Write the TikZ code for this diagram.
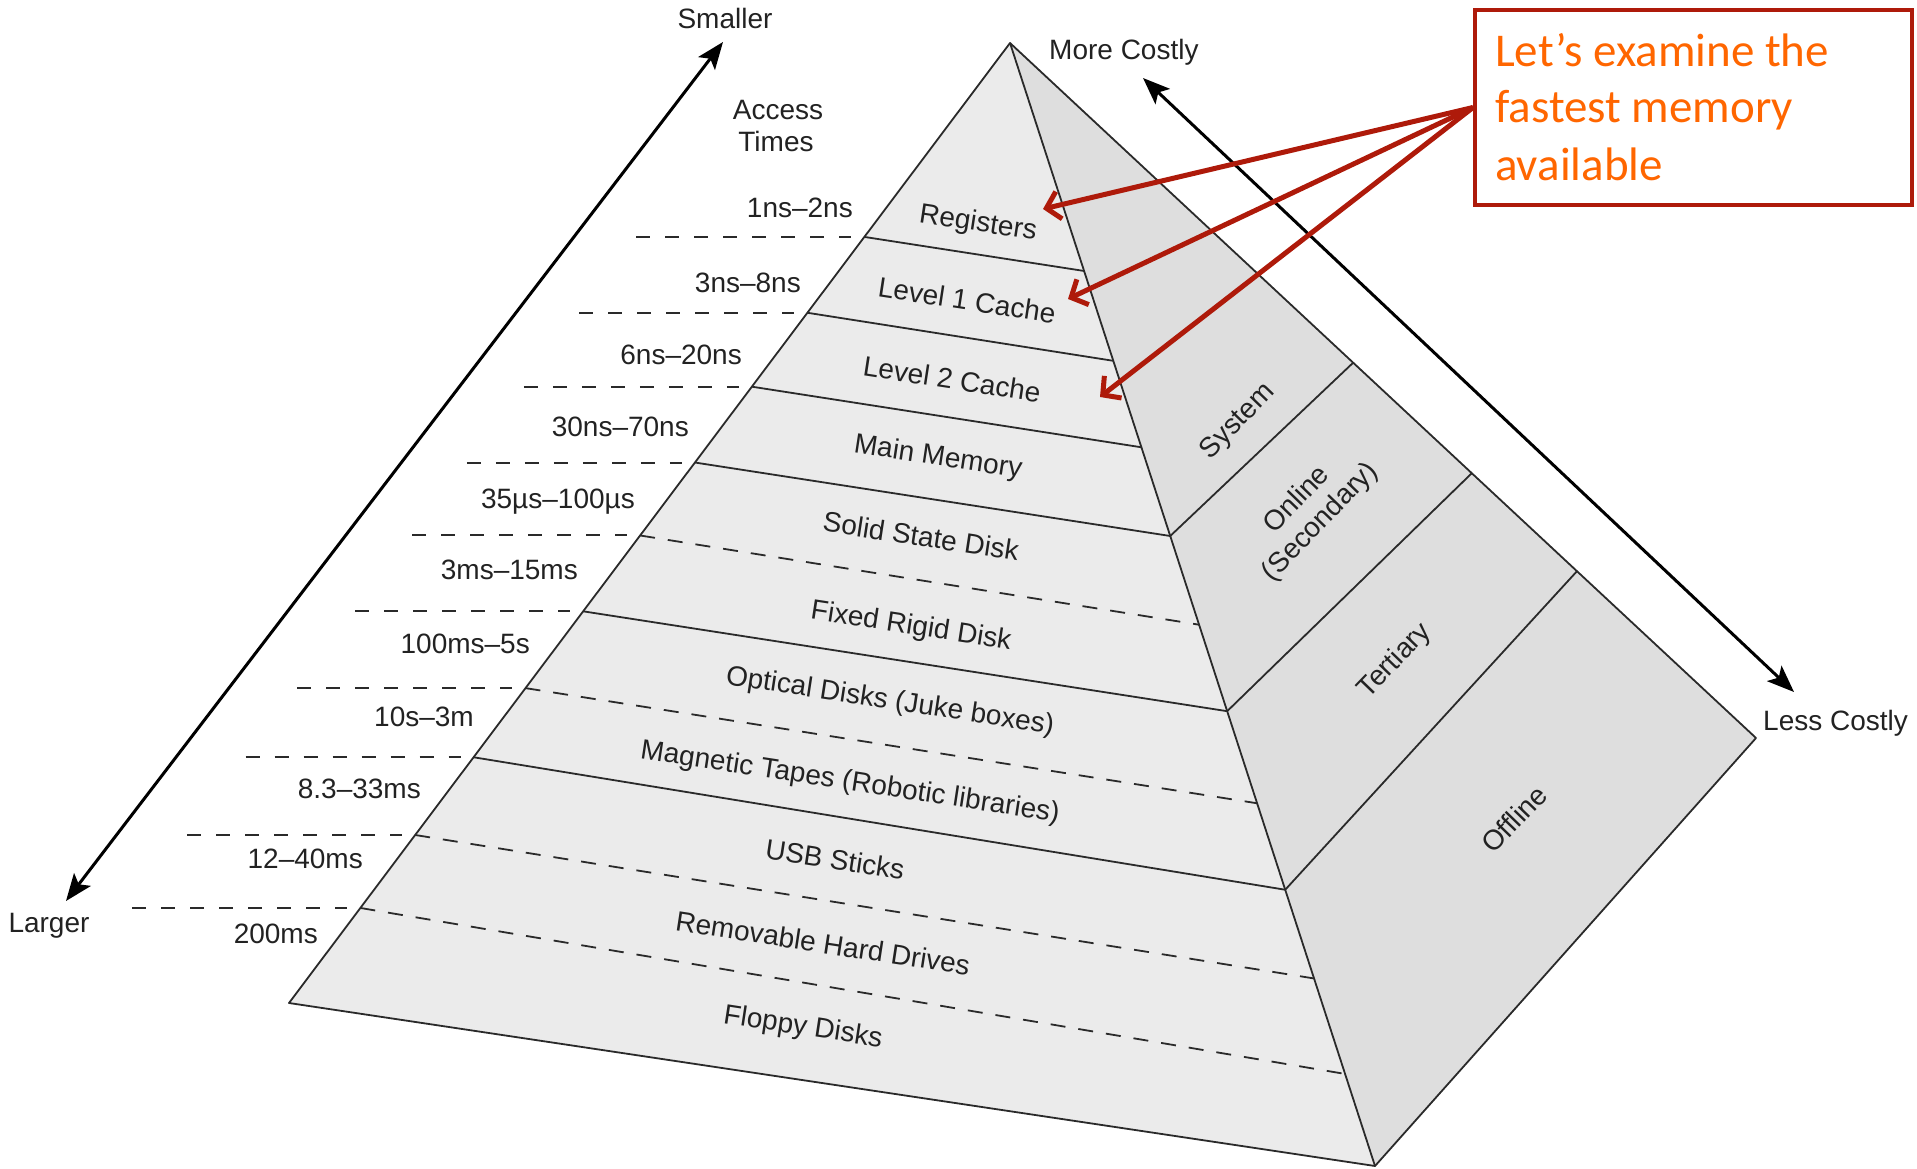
\documentclass[tikz,border=0pt]{standalone}
\usepackage{fontspec}
\setmainfont{Liberation Sans}
\newfontfamily\callfont{Carlito}
\usetikzlibrary{calc,arrows.meta}
\definecolor{txt}{HTML}{222222}
\definecolor{frontc}{HTML}{EBEBEB}
\definecolor{sidec}{HTML}{DEDEDE}
\definecolor{edgec}{HTML}{2A2A2A}
\definecolor{darkred}{HTML}{AE1A0A}
\definecolor{orangetxt}{HTML}{FF6600}
\tikzset{
  edge/.style={draw=edgec, line width=1.8pt},
  lsolid/.style={},
  ldash/.style={dash pattern=on 15pt off 13pt},
  timedash/.style={draw=edgec, line width=2pt, dash pattern=on 14pt off 15pt},
  lbl/.style={text=txt, font=\fontsize{28}{32}\selectfont, inner sep=0pt},
  layer/.style={lbl, rotate=-8.7},
  sidelbl/.style={lbl, rotate=46, align=center},
  blackarrow/.style={line width=3pt, black,
    {Stealth[length=27pt,width=21pt,inset=6pt]}-{Stealth[length=27pt,width=21pt,inset=6pt]}},
  redarrow/.style={line width=5pt, darkred, -{Straight Barb[length=13pt,width=28pt]}},
  callbox/.style={draw=darkred, line width=4pt, fill=white, inner sep=0pt},
  calltext/.style={text=orangetxt, font=\callfont\fontsize{47}{57}\selectfont, inner sep=0pt}
}
\begin{document}
\begin{tikzpicture}[x=1pt, y=-1pt]
\useasboundingbox (0,0) rectangle (1917,1169);
% pyramid corners
\coordinate (A) at (1010,43);
\coordinate (BL) at (289,1003);
\coordinate (BR) at (1375,1166);
\coordinate (R) at (1756,738);
\fill[frontc] (A) -- (BL) -- (BR) -- cycle;
\fill[sidec] (A) -- (BR) -- (R) -- cycle;
% layer lines and access-time dashes
\foreach \i/\tl/\tr/\st in {1/0.202/0.203/lsolid, 2/0.281/0.283/lsolid, 3/0.358/0.360/lsolid, 4/0.437/0.439/lsolid, 5/0.513/0.518/ldash, 6/0.592/0.595/lsolid, 7/0.672/0.677/ldash, 8/0.744/0.754/lsolid, 9/0.825/0.833/ldash, 10/0.901/0.918/ldash}{
  \coordinate (L\i) at ($(A)!\tl!(BL)$);
  \coordinate (Rt\i) at ($(A)!\tr!(BR)$);
  \draw[edge, \st] (L\i) -- (Rt\i);
  \draw[timedash] ([xshift=-228pt]L\i) -- ([xshift=-13pt]L\i);
}
% side face divisions
\coordinate (S1) at ($(A)!0.46!(R)$);
\coordinate (S2) at ($(A)!0.619!(R)$);
\coordinate (S3) at ($(A)!0.760!(R)$);
\draw[edge] (Rt4) -- (S1);
\draw[edge] (Rt6) -- (S2);
\draw[edge] (Rt8) -- (S3);
% outlines
\draw[edge, line join=round] (A) -- (BL) -- (BR) -- (R) -- cycle;
\draw[edge] (A) -- (BR);
% layer labels
\node[layer] (nreg) at (978,224) {Registers};
\node[layer] (nl1) at (967,300) {Level 1 Cache};
\node[layer] (nl2) at (952,379) {Level 2 Cache};
\node[layer] (nmm) at (938,458) {Main Memory};
\node[layer] (nssd) at (921,536) {Solid State Disk};
\node[layer] (nfrd) at (911,627) {Fixed Rigid Disk};
\node[layer] (nopt) at (890,702) {Optical Disks (Juke boxes)};
\node[layer] (nmag) at (850,783) {Magnetic Tapes (Robotic libraries)};
\node[layer] (nusb) at (835,859) {USB Sticks};
\node[layer] (nrhd) at (823,943) {Removable Hard Drives};
\node[layer] (nfd) at (803,1028) {Floppy Disks};
% side labels
\node[sidelbl] (nsys) at (1238,422) {System};
\node[sidelbl] (non) at (1309,511) {Online\\(Secondary)};
\node[sidelbl] (nter) at (1395,661) {Tertiary};
\node[sidelbl] (noff) at (1514,819) {Offline};
% access times
\node[lbl, align=center, anchor=base] (acc) at (778,120) {Access};
\node[lbl, align=center, anchor=base] (acc2) at (776,152) {Times};
\node[lbl, anchor=base east] (t1) at (853,218) {1ns--2ns};
\node[lbl, anchor=base east] (t2) at (801,292) {3ns--8ns};
\node[lbl, anchor=base east] (t3) at (742,364) {6ns--20ns};
\node[lbl, anchor=base east] (t4) at (689,436) {30ns--70ns};
\node[lbl, anchor=base east] (t5) at (635,508) {35µs--100µs};
\node[lbl, anchor=base east] (t6) at (578,579) {3ms--15ms};
\node[lbl, anchor=base east] (t7) at (530,653) {100ms--5s};
\node[lbl, anchor=base east] (t8) at (474,726) {10s--3m};
\node[lbl, anchor=base east] (t9) at (421,798) {8.3--33ms};
\node[lbl, anchor=base east] (t10) at (363,868) {12--40ms};
\node[lbl, anchor=base east] (t11) at (318,943) {200ms};
% arrows
\coordinate (sm) at (723,42);
\coordinate (lg) at (66,901);
\coordinate (mc) at (1143,78);
\coordinate (lc) at (1794,692);
\draw[blackarrow] (sm) -- (lg);
\draw[blackarrow] (mc) -- (lc);
\node[lbl, anchor=base] (nsmall) at (725,29) {Smaller};
\node[lbl, anchor=base] (nlarge) at (49,932) {Larger};
\node[lbl, anchor=base west] (nmore) at (1049,60) {More Costly};
\node[lbl, anchor=base west] (nless) at (1763,730) {Less Costly};
% callout
\node[callbox, minimum width=437pt, minimum height=195pt, anchor=north west] (call) at (1473,8) {};
\coordinate (tReg) at (1043,209);
\coordinate (tL1) at (1068,299);
\coordinate (tL2) at (1100,397);
\draw[redarrow] (call.west) -- (tReg);
\draw[redarrow] (call.west) -- (tL1);
\draw[redarrow] (call.west) -- (tL2);
\node[calltext, anchor=base west] (c1) at (1495,67) {Let’s examine the};
\node[calltext, anchor=base west] (c2) at (1495,123) {fastest memory};
\node[calltext, anchor=base west] (c3) at (1495,181) {available};
\end{tikzpicture}
\end{document}
